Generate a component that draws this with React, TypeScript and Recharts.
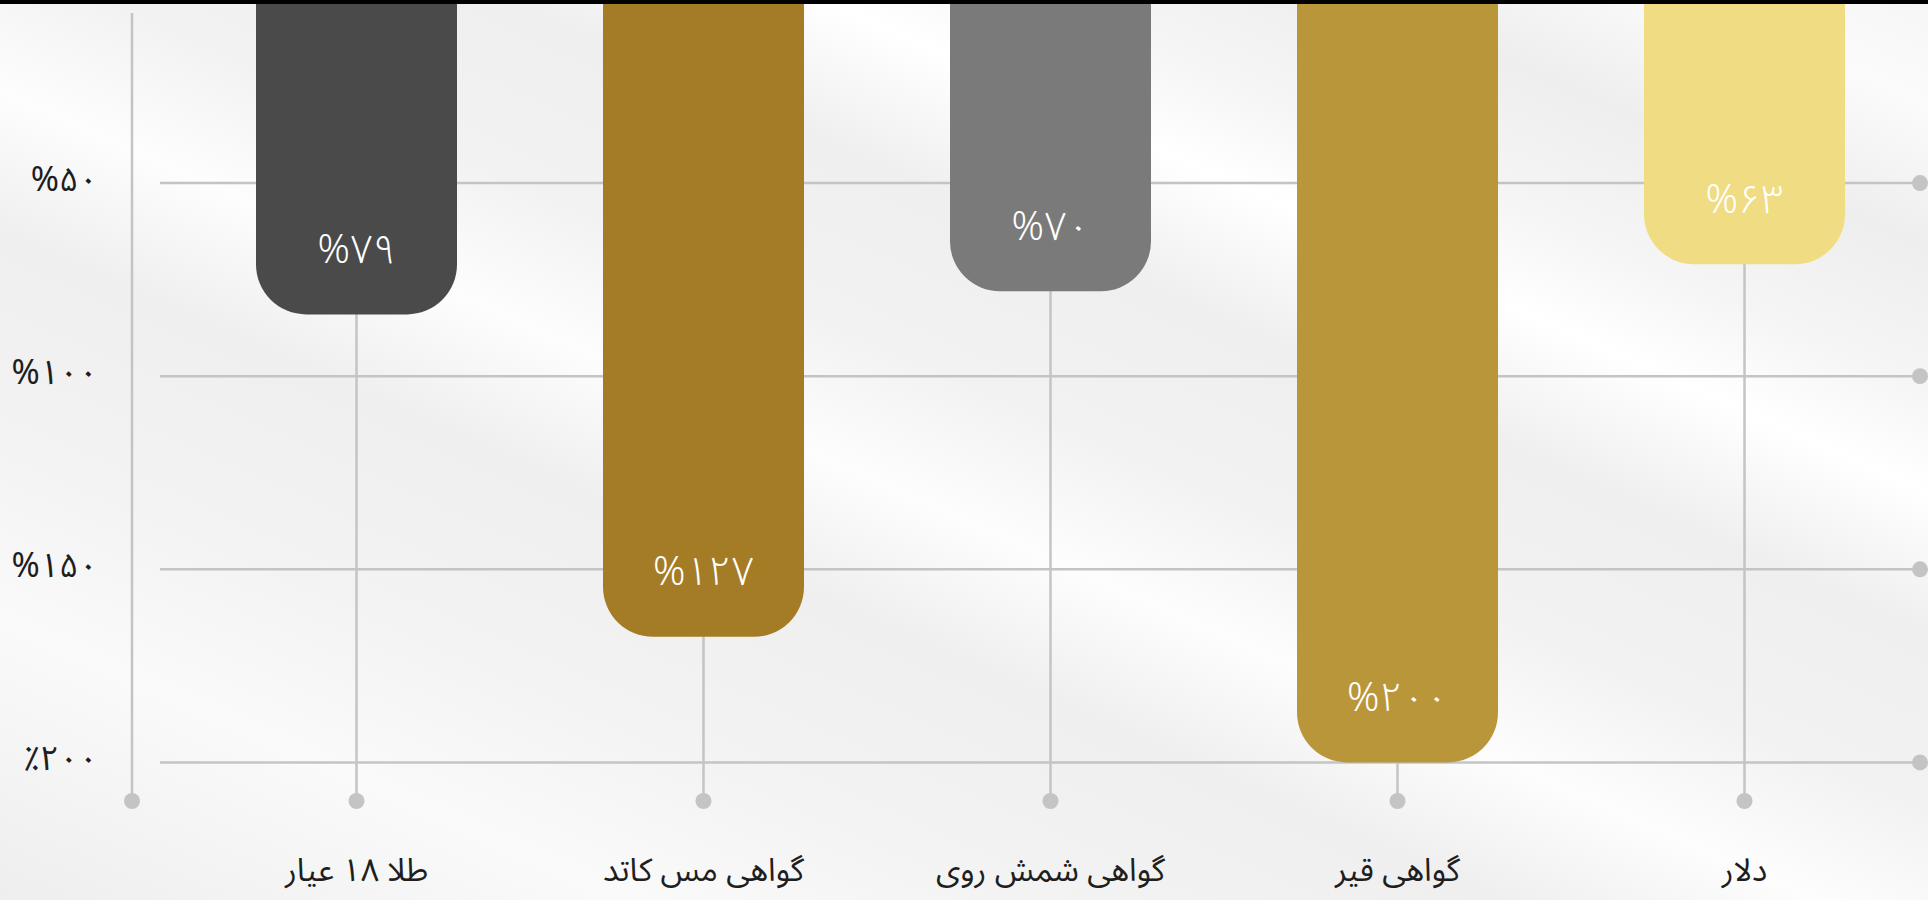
import React from "react";
import { BarChart, Bar, XAxis, YAxis, CartesianGrid, LabelList, Cell } from "recharts";

// categories, read right-to-left in the original but drawn left-to-right here
const categories = ["طلا ۱۸ عیار", "گواهی مس کاتد", "گواهی شمش روی", "گواهی قیر", "دلار"];
// bar lengths
const barValues = [84, 167.5, 78, 200, 71];
// the texts printed inside the bars
const barLabels = ["%۷۹", "%۱۲۷", "%۷۰", "%۲۰۰", "%۶۳"];
const barColors = ["#4a4a4a", "#a57c26", "#7a7a7a", "#ba963b", "#f0dc82"];
const yTicks = [50, 100, 150, 200];
const yTickLabels = ["%۵۰", "%۱۰۰", "%۱۵۰", "٪۲۰۰"];

const FONT = "'Noto Sans Arabic', Vazirmatn, 'DejaVu Sans', sans-serif";
const GRID = "#c4c4c4";

const data = categories.map((name, i) => ({
  name,
  value: barValues[i],
  label: barLabels[i],
}));

const HorizontalLine = (p: any) => (
  <g key={p.key}>
    <line x1={p.x1 + 28} y1={p.y1} x2={p.x2} y2={p.y2} stroke={GRID} strokeWidth={2.5} />
    <circle cx={p.x2} cy={p.y2} r={8} fill={GRID} />
  </g>
);

const VerticalLine = (p: any) => (
  <g key={p.key}>
    <line x1={p.x1} y1={p.y1} x2={p.x2} y2={p.y2} stroke={GRID} strokeWidth={2.5} />
    <circle cx={p.x2} cy={p.y2} r={8} fill={GRID} />
    {p.index === 0 && (
      <g>
        <line x1={p.x} y1={p.y + 23} x2={p.x} y2={p.y2} stroke={GRID} strokeWidth={2.5} />
        <circle cx={p.x} cy={p.y2} r={8} fill={GRID} />
      </g>
    )}
  </g>
);

const YTick = (props: any) => {
  const { x, y, payload } = props;
  const idx = yTicks.indexOf(payload.value);
  return (
    <text
      x={x - 32}
      y={y - 3}
      textAnchor="end"
      dominantBaseline="central"
      fontFamily={FONT}
      fontSize={34}
      fill="#1e1e1e"
    >
      {yTickLabels[idx]}
    </text>
  );
};

const XTick = (props: any) => {
  const { x, y, payload } = props;
  return (
    <text x={x} y={y} dy={80} textAnchor="middle" fontFamily={FONT} fontSize={32} fill="#1e1e1e">
      {payload.value}
    </text>
  );
};

const BarText = (props: any) => {
  const { x, y, width, height, value } = props;
  const bottom = Math.max(y, y + height);
  return (
    <text
      x={x + width / 2}
      y={bottom - 64}
      textAnchor="middle"
      dominantBaseline="central"
      fontFamily={FONT}
      fontSize={40}
      fontWeight={300}
      fill="#ffffff"
    >
      {value}
    </text>
  );
};

export default function App() {
  return (
    <div
      style={{
        position: "fixed",
        left: 0,
        top: 0,
        width: 1928,
        height: 900,
        overflow: "hidden",
        background:
          "linear-gradient(204deg, #f6f6f6 0%, #fbfbfb 6%, #eeeeee 14%, #f5f5f5 22%, #ffffff 28%, #efefef 36%, #f2f2f2 46%, #fdfdfd 54%, #efefef 62%, #f3f3f3 74%, #fafafa 84%, #eeeeee 100%)",
      }}
    >
      <div style={{ position: "absolute", left: 0, top: -10 }}>
        <BarChart
          width={1928}
          height={910}
          data={data}
          margin={{ top: 0, right: 8, bottom: 0, left: 0 }}
          barSize={201}
        >
          <CartesianGrid
            syncWithTicks
            horizontal={HorizontalLine}
            vertical={VerticalLine}
          />
          <XAxis
            dataKey="name"
            interval={0}
            padding={{ left: 51, right: 2 }}
            axisLine={false}
            tickLine={false}
            tickSize={0}
            tickMargin={0}
            height={99}
            tick={XTick}
          />
          <YAxis
            reversed
            type="number"
            domain={[0, 210]}
            ticks={yTicks}
            width={132}
            axisLine={false}
            tickLine={false}
            tickSize={0}
            tick={YTick}
          />
          <Bar dataKey="value" radius={[50, 50, 0, 0]} isAnimationActive={false}>
            {data.map((d, i) => (
              <Cell key={d.name} fill={barColors[i]} />
            ))}
            <LabelList dataKey="label" content={BarText} />
          </Bar>
        </BarChart>
      </div>
      <div style={{ position: "absolute", left: 0, top: 0, width: 1928, height: 4, background: "#000" }} />
    </div>
  );
}
